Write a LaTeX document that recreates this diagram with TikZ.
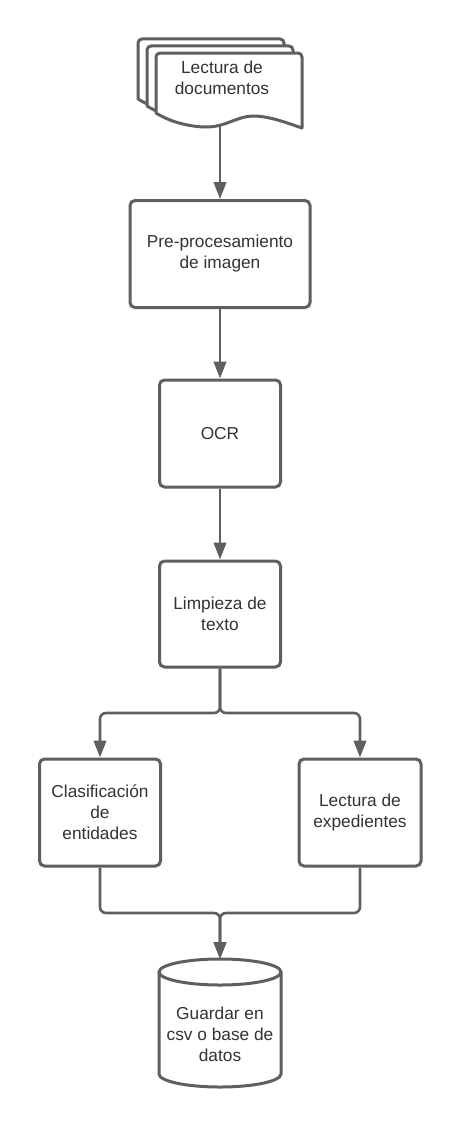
\documentclass[tikz,border=0pt]{standalone}
\usepackage{fontspec}
\setmainfont{Liberation Sans}
\usetikzlibrary{arrows.meta}
\definecolor{lc}{RGB}{95,95,95}
\definecolor{tc}{RGB}{51,51,51}
\begin{document}
\begin{tikzpicture}[x=1pt,y=1pt,
  txt/.style={text=tc,font=\fontsize{17.3}{21}\selectfont,align=center,inner sep=0pt},
  box/.style={txt,draw=lc,line width=3pt,rounded corners=5pt,fill=white,rectangle},
  sheet/.style={draw=lc,line width=3pt,fill=white,line join=round},
  cyl/.style={draw=lc,line width=3pt,fill=white,line join=round},
  conn/.style={draw=lc,line width=2.6pt,-{Triangle[width=12.5pt,length=17pt]}},
  link/.style={draw=lc,line width=2.6pt}]
\useasboundingbox (0,0) rectangle (460,-1127);
% document stack
\foreach \d in {18,9,0}{
  \path[sheet,shift={(-\d,0.78*\d)}]
    (156,-113) [rounded corners=4pt] -- (156,-53) -- (302,-53) [sharp corners] -- (302,-128)
    .. controls (290,-124) and (270,-116) .. (253,-116)
    .. controls (238,-116) and (225,-127) .. (207,-127)
    .. controls (190,-127) and (170,-122) .. (156,-113) -- cycle;
}
\node[txt] (doc) at (222,-78) {Lectura de\\documentos};
\coordinate (docb) at (220,-126);
% boxes
\node[box,minimum width=180pt,minimum height=107pt] (pre) at (220,-254) {Pre-procesamiento\\de imagen};
\node[box,minimum width=121pt,minimum height=107pt] (ocr) at (220,-433.5) {OCR};
\node[box,minimum width=121pt,minimum height=106pt] (limp) at (220,-614) {Limpieza de\\texto};
\node[box,minimum width=121pt,minimum height=107pt] (clas) at (100,-812.5) {Clasificación\\de\\entidades};
\node[box,minimum width=122pt,minimum height=107pt] (lect) at (360,-812.5) {Lectura de\\expedientes};
% cylinder
\path[cyl] (159,-972) -- (159,-1074) arc[start angle=180,end angle=360,x radius=61,y radius=13] -- (281,-972) -- cycle;
\path[cyl] (220,-972) ellipse [x radius=61,y radius=13];
\node[txt] (db) at (220,-1034) {Guardar en\\csv o base de\\datos};
\coordinate (dbtop) at (220,-959);
% connectors
\draw[conn] (docb) -- (pre.north);
\draw[conn] (pre.south) -- (ocr.north);
\draw[conn] (ocr.south) -- (limp.north);
\coordinate (split) at (220,-713);
\draw[conn,rounded corners=6pt] (limp.south) -- (split) -| (clas.north);
\draw[conn,rounded corners=6pt] (limp.south) -- (split) -| (lect.north);
\coordinate (merge) at (220,-913);
\draw[conn,rounded corners=6pt] (clas.south) |- (merge) -- (dbtop);
\draw[conn,rounded corners=6pt] (lect.south) |- (merge) -- (dbtop);
\end{tikzpicture}
\end{document}
